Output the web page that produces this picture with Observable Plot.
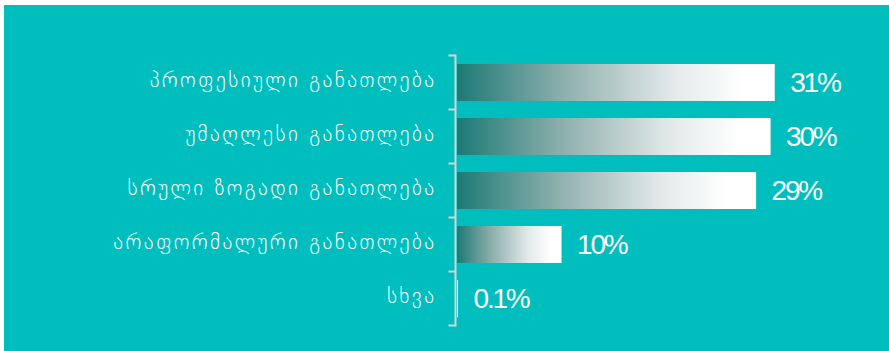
<!DOCTYPE html>
<html>
<head>
<meta charset="utf-8">
<script src="https://cdn.jsdelivr.net/npm/d3@7"></script>
<script src="https://cdn.jsdelivr.net/npm/@observablehq/plot@0.6"></script>
<style>
  html, body { margin: 0; padding: 0; background: #ffffff; }
  #wrap { padding: 5px 0 0 4px; width: 885px; height: 346px; }
  #chart svg { display: block; background: #00bebe; }
</style>
</head>
<body>
<div id="wrap"><div id="chart"></div></div>
<script>
const categories = [
  "პროფესიული განათლება",
  "უმაღლესი განათლება",
  "სრული ზოგადი განათლება",
  "არაფორმალური განათლება",
  "სხვა"
];
const values = [30.7, 30.3, 28.9, 10.1, 0.1];
const valueLabels = ["31%", "30%", "29%", "10%", "0.1%"];

const data = categories.map((c, i) => ({category: c, value: values[i], label: valueLabels[i]}));

const tickMark = (index, scales, vals, dimensions) => {
  const y = scales.y;
  const x = scales.x;
  const step = y.step ? y.step() : (dimensions.height - dimensions.marginTop - dimensions.marginBottom) / categories.length;
  const bw = y.bandwidth ? y.bandwidth() : step * 0.68;
  const gap = (step - bw) / 2;
  const x0 = x(0) - 1.5;
  const g = d3.create("svg:g").attr("stroke", "#d4d4d4").attr("stroke-width", 2).attr("fill", "none");
  const ys = categories.map(c => y(c) - gap);
  ys.push(y(categories[categories.length - 1]) + bw + gap);
  for (const yy of ys) {
    g.append("line").attr("x1", x0 - 7).attr("x2", x0).attr("y1", yy).attr("y2", yy);
  }
  g.append("line").attr("x1", x0).attr("x2", x0).attr("y1", ys[0] - 1).attr("y2", ys[ys.length - 1] + 1);
  return g.node();
};

const chart = Plot.plot({
  width: 885,
  height: 346,
  marginTop: 50,
  marginBottom: 25,
  marginLeft: 453,
  marginRight: 18,
  style: {background: "#00bebe", overflow: "visible"},
  x: {domain: [0, 40], axis: null},
  y: {domain: categories, axis: null, paddingInner: 0.32, paddingOuter: 0.16},
  color: {type: "identity"},
  marks: [
    Plot.barX(data, {
      x: "value",
      y: "category",
      fill: d => d.value < 1 ? "#ffffff" : "url(#barGrad)"
    }),
    tickMark,
    Plot.text(data, {
      x: 0,
      y: "category",
      text: "category",
      dx: -21,
      dy: -3,
      textAnchor: "end",
      fill: "#ffffff",
      fontSize: 21,
      fontWeight: 200,
      fontFamily: "DejaVu Sans"
    }),
    Plot.text(data, {
      x: "value",
      y: "category",
      text: "label",
      dx: 15,
      textAnchor: "start",
      fill: "#ffffff",
      fontSize: 28,
      fontFamily: "Liberation Sans"
    })
  ]
});

const svg = d3.select(chart);
const grad = svg.insert("defs", ":first-child")
  .append("linearGradient")
  .attr("id", "barGrad")
  .attr("x1", "0").attr("x2", "1").attr("y1", "0").attr("y2", "0");
[[0, "#1c7a75"], [0.34, "#8fb0ad"], [0.68, "#e3e9e9"], [0.9, "#ffffff"], [1, "#ffffff"]]
  .forEach(([o, c]) => grad.append("stop").attr("offset", o).attr("stop-color", c));
svg.selectAll("text").each(function() {
  if (this.textContent.includes("%")) d3.select(this).style("letter-spacing", "-2.2px");
  else d3.select(this).style("letter-spacing", "2.4px");
});

document.getElementById("chart").appendChild(chart);
</script>
</body>
</html>
